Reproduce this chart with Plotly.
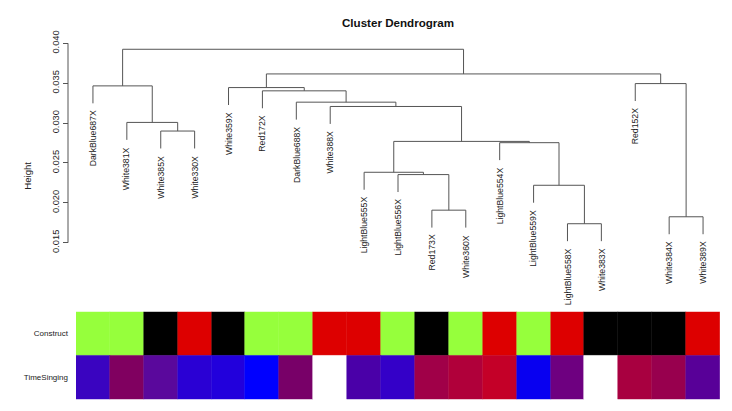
import plotly.graph_objects as go

# ---------------- data ----------------
leaves = ["DarkBlue687X", "White381X", "White385X", "White330X", "White359X",
          "Red172X", "DarkBlue688X", "White388X", "LightBlue555X", "LightBlue556X",
          "Red173X", "White360X", "LightBlue554X", "LightBlue559X", "LightBlue558X",
          "White383X", "Red152X", "White384X", "White389X"]

# hclust-style merges: negative = leaf (1-based), positive = earlier merge (1-based)
merge_left = [-15, -18, -11, -14, -10, -9, -13, 6, -3, -2, -8, -7, -6, -5, -1, -17, 14, 15]
merge_right = [-16, -19, -12, 1, 3, 5, 4, 7, -4, 9, 8, 11, 12, 13, 10, 2, 16, 17]
merge_height = [0.01738, 0.01825, 0.01908, 0.02220, 0.02354, 0.02383, 0.02754, 0.02770,
                0.02900, 0.03008, 0.03208, 0.03262, 0.03404, 0.03445, 0.03466, 0.03495,
                0.03616, 0.03925]

construct_colors = ["#96FF3C", "#96FF3C", "#000000", "#DD0000", "#000000", "#96FF3C",
                    "#96FF3C", "#DD0000", "#DD0000", "#96FF3C", "#000000", "#96FF3C",
                    "#DD0000", "#96FF3C", "#DD0000", "#000000", "#000000", "#000000",
                    "#DD0000"]
timesinging_colors = ["#3A04C0", "#800060", "#5A089C", "#2A00D4", "#2200DC", "#0000FF",
                      "#780068", "#FFFFFF", "#4A00A8", "#3400C8", "#A00048", "#B0003A",
                      "#C40028", "#0800F0", "#6E0080", "#FFFFFF", "#A80040", "#98004E",
                      "#580098"]
row_labels = ["TimeSinging", "Construct"]

y_ticks = [0.015, 0.020, 0.025, 0.030, 0.035, 0.040]
y_ticktext = ["0.015", "0.020", "0.025", "0.030", "0.035", "0.040"]

title = "Cluster Dendrogram"
y_title = "Height"

# ---------------- geometry from hclust structure ----------------
n = len(leaves)
hang = 0.1 * (max(merge_height) - min(merge_height))
mid = {}
xs, ys = [], []
leaf_bottom = {}


def child_pos(c, h):
    if c < 0:
        i = -c
        yb = h - hang
        leaf_bottom[i] = yb
        return float(i), yb
    return mid[c], merge_height[c - 1]


for k in range(len(merge_height)):
    h = merge_height[k]
    xl, yl = child_pos(merge_left[k], h)
    xr, yr = child_pos(merge_right[k], h)
    mid[k + 1] = (xl + xr) / 2
    xs += [xl, xl, xr, xr, None]
    ys += [yl, h, h, yr, None]

# page offset (default body margin) compensation
OFF = 8
W, H = 732 - OFF, 411 - OFF
L, R = 68 - OFF, 12
PW = W - L - R


def fy(px):
    return 1 - (px - OFF) / H


def fx(px):
    return (px - OFF - L) / PW


# pixel calibration for dendrogram axis (page pixels)
px_040, px_015 = 43.3, 242.7
scale = (px_015 - px_040) / 0.025
top_px, bot_px = 40, 300
v_top = 0.040 + (px_040 - top_px) / scale
v_bot = 0.040 - (bot_px - px_040) / scale

font_fam = "Liberation Sans, Arial, sans-serif"
line_col = "#555555"

fig = go.Figure()
fig.add_trace(go.Scatter(x=xs, y=ys, mode="lines", line=dict(color=line_col, width=1),
                         hoverinfo="skip", xaxis="x", yaxis="y"))

pos = list(range(1, n + 1))
fig.add_trace(go.Bar(x=pos, y=[1] * n, base=[1] * n, width=1,
                     marker=dict(color=construct_colors, line=dict(color=construct_colors, width=0.5)),
                     xaxis="x", yaxis="y2", hoverinfo="skip"))
fig.add_trace(go.Bar(x=pos, y=[1] * n, base=[0] * n, width=1,
                     marker=dict(color=timesinging_colors, line=dict(color=timesinging_colors, width=0.5)),
                     xaxis="x", yaxis="y2", hoverinfo="skip"))

annotations = []
for i, name in enumerate(leaves, start=1):
    annotations.append(dict(x=i, y=leaf_bottom[i], xref="x", yref="y", text=name,
                            textangle=-90, xanchor="center", yanchor="top", yshift=-5,
                            showarrow=False, font=dict(family=font_fam, size=8.7, color="#222")))
annotations.append(dict(x=fx(397.5), y=fy(22.3), xref="paper", yref="paper", text="<b>" + title + "</b>",
                        showarrow=False, xanchor="center", yanchor="middle",
                        font=dict(family=font_fam, size=11.6, color="#111")))
annotations.append(dict(x=fx(28), y=fy(175.7), xref="paper", yref="paper", text=y_title,
                        textangle=-90, showarrow=False, xanchor="center", yanchor="middle",
                        font=dict(family=font_fam, size=9.6, color="#222")))

shapes = [dict(type="line", xref="paper", yref="y", x0=0, x1=0, y0=y_ticks[0], y1=y_ticks[-1],
               line=dict(color=line_col, width=1))]

fig.update_layout(
    width=W, height=H, margin=dict(l=L, r=R, t=0, b=0, autoexpand=False),
    paper_bgcolor="white", plot_bgcolor="white", showlegend=False,
    bargap=0, barmode="overlay",
    xaxis=dict(domain=[fx(76), 1], range=[0.5, n + 0.5], visible=False, anchor="y2",
               automargin=False),
    yaxis=dict(domain=[fy(bot_px), fy(top_px)], range=[v_bot, v_top], anchor="free", position=0,
               tickvals=y_ticks, ticktext=y_ticktext, ticks="outside", ticklen=5, tickwidth=1,
               tickcolor=line_col, tickangle=-90, showgrid=False, zeroline=False, showline=False,
               automargin=False,
               tickfont=dict(family=font_fam, size=9.3, color="#222")),
    yaxis2=dict(domain=[fy(399.3), fy(311.7)], range=[0, 2], anchor="free", position=0,
                tickvals=[0.5, 1.5], ticktext=row_labels, ticks="", showgrid=False,
                zeroline=False, showline=False, automargin=False,
                tickfont=dict(family=font_fam, size=8, color="#222")),
    annotations=annotations, shapes=shapes,
)

fig.write_html("out.html")
